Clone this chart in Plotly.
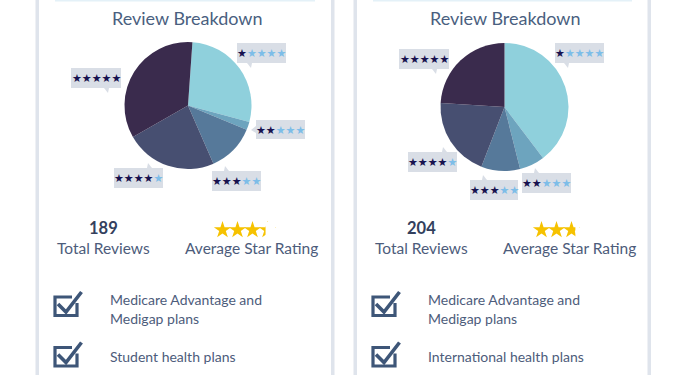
import math
import plotly.graph_objects as go

# ---------------- data ----------------
rating_levels = [1, 2, 3, 4, 5]
rating_labels = ["1 star", "2 stars", "3 stars", "4 stars", "5 stars"]
card1_counts = [53, 4, 23, 44, 65]
card2_counts = [81, 13, 20, 41, 49]
card1_plans = [["Medicare Advantage and", "Medigap plans"], ["Student health plans"]]
card2_plans = [["Medicare Advantage and", "Medigap plans"], ["International health plans"]]
card_title = "Review Breakdown"
total_label = "Total Reviews"
avg_label = "Average Star Rating"

slice_colors = ["#8fd0dc", "#6da4be", "#56799a", "#474f71", "#3a2b4d"]
TITLE_C = "#4a5f80"
TEXT_C = "#4d5c7b"
NUM_C = "#33405d"
BORDER_C = "#dfe4ec"
BOX_C = "#d9dee6"
DARK_STAR = "#17124f"
LIGHT_STAR = "#7dbde8"
GOLD = "#f6c200"
ICON_C = "#3e5678"
W, H = 700, 375

fig = go.Figure()

cards = [
    dict(counts=card1_counts, plans=card1_plans, dx=0, pie=(188, 105.5, 63.5), rot=4,
         stars_x0=222.5,
         callouts=[  # x0, x1, y0, y1, pointer side, pointer pos
             (237, 286, 43, 63, "bottom", 251),
             (256, 305, 120, 139, "left", 130),
             (212, 261, 171, 191, "top", 225),
             (114, 163, 168, 188, "top", 148),
             (71, 121, 68, 88, "bottom", 108),
         ]),
    dict(counts=card2_counts, plans=card2_plans, dx=318, pie=(504.5, 107, 64), rot=0,
         stars_x0=541.5,
         callouts=[
             (555, 604, 43, 63, "bottom", 568),
             (522, 571, 173, 193, "top", 535),
             (470, 518, 180, 200, "top", 483),
             (408, 457, 152, 172, "top", 443),
             (399, 449, 49, 69, "bottom", 436),
         ]),
]

shapes = []
annotations = []

# card borders and top faint lines
for x0 in (35.5, 331, 353.5, 647.5):
    shapes.append(dict(type="rect", xref="x", yref="y", x0=x0, x1=x0 + 3.5, y0=0, y1=H,
                       fillcolor=BORDER_C, line=dict(width=0), layer="below"))
for a, b in ((55, 315), (373, 632)):
    shapes.append(dict(type="rect", xref="x", yref="y", x0=a, x1=b, y0=0, y1=1.5,
                       fillcolor="#e4f1f8", line=dict(width=0), layer="below"))

for ci, c in enumerate(cards):
    dx = c["dx"]
    counts = c["counts"]
    cx, cy, r = c["pie"]
    fig.add_trace(go.Pie(
        labels=rating_labels, values=counts, sort=False, direction="clockwise",
        rotation=c["rot"], marker=dict(colors=slice_colors, line=dict(width=0)),
        textinfo="none", hoverinfo="label+value", showlegend=False,
        domain=dict(x=[(cx - r) / W, (cx + r) / W], y=[1 - (cy + r) / H, 1 - (cy - r) / H]),
    ))

    # title
    annotations.append(dict(x=187.5 + dx, y=18, xref="x", yref="y", text=card_title,
                            showarrow=False, font=dict(family="Lato", size=18, color=TITLE_C)))

    # callouts
    for lvl, (x0, x1, y0, y1, side, p) in zip(rating_levels, c["callouts"]):
        shapes.append(dict(type="rect", xref="x", yref="y", x0=x0, x1=x1, y0=y0, y1=y1,
                           fillcolor=BOX_C, line=dict(width=0)))
        if side == "bottom":
            path = f"M{p-4},{y1} L{p},{y1+5} L{p+1},{y1} Z"
        elif side == "top":
            path = f"M{p-1},{y0} L{p},{y0-5} L{p+4},{y0} Z"
        else:
            path = f"M{x0},{p-4} L{x0-5},{p} L{x0},{p+3} Z"
        shapes.append(dict(type="path", xref="x", yref="y", path=path,
                           fillcolor=BOX_C, line=dict(width=0)))
        txt = (f'<span style="color:{DARK_STAR}">' + "★" * lvl + "</span>"
               f'<span style="color:{LIGHT_STAR}">' + "★" * (5 - lvl) + "</span>")
        annotations.append(dict(x=(x0 + x1) / 2, y=(y0 + y1) / 2 + 0.5, xref="x", yref="y",
                                text=txt, showarrow=False, borderpad=0,
                                font=dict(family="DejaVu Sans", size=11, color=DARK_STAR)))

    # totals
    total = sum(counts)
    avg = sum(l * n for l, n in zip(rating_levels, counts)) / total
    annotations.append(dict(x=103.5 + dx, y=228, xref="x", yref="y", text=f"<b>{total}</b>",
                            showarrow=False, borderpad=0,
                            font=dict(family="Lato", size=16.5, color=NUM_C)))
    annotations.append(dict(x=103 + dx, y=248, xref="x", yref="y", text=total_label,
                            showarrow=False, borderpad=0,
                            font=dict(family="Lato", size=15.5, color=TEXT_C)))
    annotations.append(dict(x=251 + dx, y=248, xref="x", yref="y", text=avg_label,
                            showarrow=False, borderpad=0,
                            font=dict(family="Lato", size=15.5, color=TEXT_C)))

    # rating stars
    n_stars = math.ceil(avg)
    sx = [c["stars_x0"] + i * 15 for i in range(n_stars)]
    fig.add_trace(go.Scatter(x=sx, y=[230] * n_stars, mode="markers",
                             marker=dict(symbol="star", size=13, color=GOLD, line=dict(width=0)),
                             hoverinfo="skip", showlegend=False, cliponaxis=False))
    frac = avg - math.floor(avg)
    if frac > 0:
        sw = 12
        left = sx[-1] - sw / 2 + frac * sw
        shapes.append(dict(type="rect", xref="x", yref="y", x0=left, x1=sx[-1] + sw / 2 + 2,
                           y0=222, y1=239, fillcolor="white", line=dict(width=0), layer="above"))

    # plan items with check icons
    for k, lines in enumerate(c["plans"]):
        oy = k * 50.5
        ox = dx
        shapes.append(dict(type="path", xref="x", yref="y",
                           path=f"M{77+ox},{303+oy} L{77+ox},{315.5+oy} L{55+ox},{315.5+oy} "
                                f"L{55+ox},{297+oy} L{72+ox},{297+oy}",
                           line=dict(color=ICON_C, width=3.2)))
        shapes.append(dict(type="path", xref="x", yref="y",
                           path=f"M{58+ox},{304+oy} L{66+ox},{312+oy} L{81.5+ox},{292+oy}",
                           line=dict(color=ICON_C, width=3.6)))
        if len(lines) == 2:
            ys = [299 + oy, 318 + oy]
        else:
            ys = [306 + oy]
        for t, yy in zip(lines, ys):
            annotations.append(dict(x=107.5 + dx, y=yy, xref="x", yref="y", text=t,
                                    xanchor="left", showarrow=False,
                                    font=dict(family="Lato", size=14, color=TEXT_C)))

fig.update_layout(
    width=W, height=H, margin=dict(l=0, r=0, t=0, b=0),
    paper_bgcolor="white", plot_bgcolor="rgba(0,0,0,0)",
    xaxis=dict(range=[0, W], visible=False, fixedrange=True),
    yaxis=dict(range=[H, 0], visible=False, fixedrange=True),
    shapes=shapes, annotations=annotations, showlegend=False,
)

fig.write_html("out.html")
